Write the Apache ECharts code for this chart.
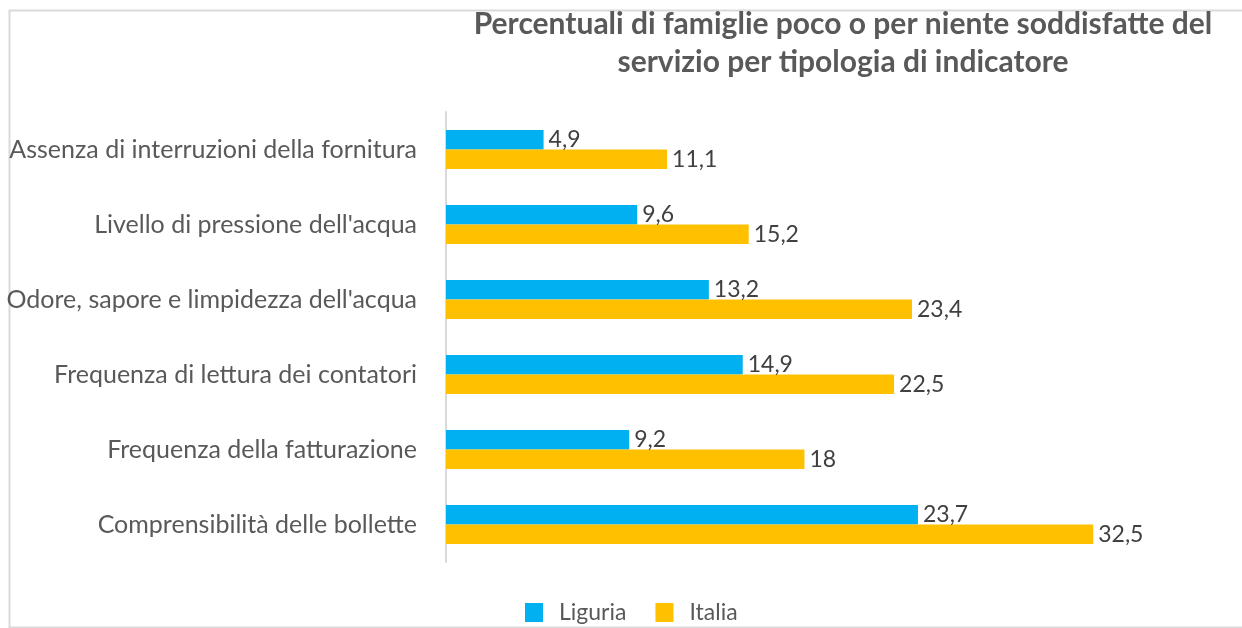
<!DOCTYPE html>
<html><head><meta charset="utf-8">
<script src="https://cdn.jsdelivr.net/npm/echarts@6/dist/echarts.min.js"></script>
<style>html,body{margin:0;padding:0;background:#fff}#c{width:1242px;height:628px}</style>
</head><body><div id="c"></div>
<script>
const categories = [
  "Assenza di interruzioni della fornitura",
  "Livello di pressione dell'acqua",
  "Odore, sapore e limpidezza dell'acqua",
  "Frequenza di lettura dei contatori",
  "Frequenza della fatturazione",
  "Comprensibilità delle bollette"
];
const liguria = [4.9, 9.6, 13.2, 14.9, 9.2, 23.7];
const italia = [11.1, 15.2, 23.4, 22.5, 18, 32.5];
const seriesNames = ["Liguria", "Italia"];
const titleText = "Percentuali di famiglie poco o per niente soddisfatte del\nservizio per tipologia di indicatore";

const FONT = "Lato, 'Open Sans', sans-serif";
const fmt = p => String(p.value).replace('.', ',');
const chart = echarts.init(document.getElementById('c'), null, {renderer: 'canvas'});
chart.setOption({
  backgroundColor: '#fff',
  animation: false,
  graphic: [{
    type: 'rect', left: 7, top: 8, z: -1,
    shape: {width: 1234, height: 617},
    style: {fill: 'none', stroke: '#d9d9d9', lineWidth: 2}
  }],
  title: {
    text: titleText, left: 838, top: 0, textAlign: 'center',
    textStyle: {fontFamily: FONT, fontSize: 30, fontWeight: 'bold', color: '#595959', lineHeight: 38}
  },
  legend: {
    data: seriesNames, bottom: -1, left: 520, itemWidth: 18, itemHeight: 19, itemGap: 29,
    icon: 'rect',
    textStyle: {fontFamily: FONT, fontSize: 23, color: '#595959', padding: [0, 0, 0, 11]}
  },
  grid: {left: 446, right: 99, top: 112, bottom: 66, containLabel: false},
  xAxis: {
    type: 'value', min: 0, max: 35, show: false
  },
  yAxis: {
    type: 'category', data: categories, inverse: true,
    axisLine: {show: true, lineStyle: {color: '#d9d9d9', width: 2}},
    axisTick: {show: false},
    axisLabel: {fontFamily: FONT, fontSize: 25, color: '#595959', margin: 29, padding: [0, 0, 4, 0]}
  },
  series: [
    {name: seriesNames[0], type: 'bar', data: liguria, barGap: '0%', barCategoryGap: '48%',
     itemStyle: {color: '#00b0f0'},
     label: {show: true, position: 'right', distance: 5, formatter: fmt,
             fontFamily: FONT, fontSize: 23, color: '#404040'}},
    {name: seriesNames[1], type: 'bar', data: italia, barGap: '0%', barCategoryGap: '48%',
     itemStyle: {color: '#ffc000'},
     label: {show: true, position: 'right', distance: 5, formatter: fmt,
             fontFamily: FONT, fontSize: 23, color: '#404040'}}
  ]
});
</script></body></html>
